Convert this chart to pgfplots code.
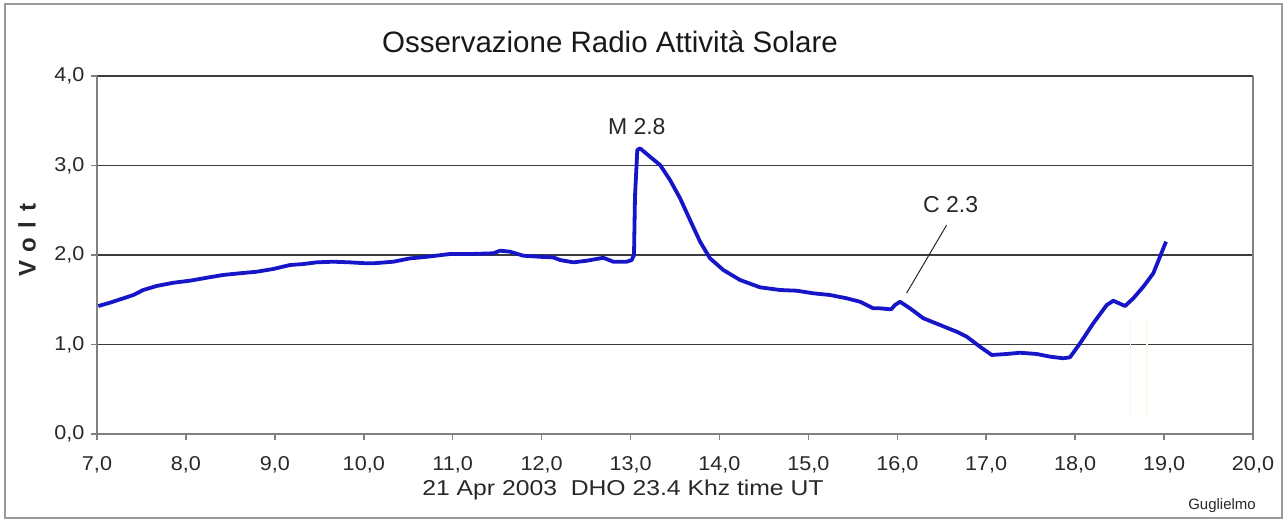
\documentclass[border=0pt]{standalone}
\usepackage{fontspec}
\setmainfont{Liberation Sans}
\newfontfamily\widefont[FakeStretch=1.08]{Liberation Sans}
\newfontfamily\labelfont[FakeStretch=1.15]{Liberation Sans}
\usepackage{pgfplots}
\pgfplotsset{compat=1.18}

\definecolor{trace}{RGB}{22,22,200}
\definecolor{gridc}{RGB}{60,60,60}
\definecolor{axisc}{RGB}{128,128,128}
\definecolor{txt}{RGB}{40,40,40}
\definecolor{faint}{RGB}{250,250,232}

\begin{document}
\begin{tikzpicture}[x=1pt,y=1pt]
  % page in pixel units, y downwards
  \useasboundingbox (0,0) rectangle (1287,-521);
  \fill[white] (0,0) rectangle (1287,-521);
  \draw[axisc!80, line width=2.5pt] (5,-4) rectangle (1282,-518);

  \begin{axis}[
    at={(97pt,-434pt)}, anchor=south west,
    scale only axis,
    width=1156pt, height=358pt,
    xmin=7, xmax=20, ymin=0, ymax=4,
    xtick={7,8,...,20}, ytick={0,1,2,3,4},
    axis line style={draw=none},
    tick pos=left, tick align=outside,
    major tick length=6pt,
    tick style={axisc, line width=1.5pt},
    /pgf/number format/.cd, fixed, fixed zerofill, precision=1, use comma,
    assume math mode=true,
    /pgfplots/.cd,
    every tick label/.append style={font=\widefont\fontsize{20}{20}\selectfont, text=txt},
    yticklabel style={xshift=-3pt},
    xticklabel style={yshift=-13pt},
    clip=false,
  ]
    % grid lines and frame of the plot area
    \draw[gridc, line width=1.5pt] (axis cs:7,1) -- (axis cs:20,1);
    \draw[gridc, line width=1.5pt] (axis cs:7,2) -- (axis cs:20,2);
    \draw[gridc, line width=1.5pt] (axis cs:7,3) -- (axis cs:20,3);
    \draw[gridc, line width=1.5pt] (axis cs:7,4) -- (axis cs:20,4);
    \draw[axisc, line width=1.5pt] (axis cs:20,0) -- (axis cs:20,4);
    \draw[axisc, line width=2pt] (axis cs:7,0) -- (axis cs:20,0);
    \draw[axisc, line width=2pt] (axis cs:7,0) -- (axis cs:7,4);

    % faint stray marks
    \addplot[faint, line width=1.5pt] coordinates {(18.62,0.19) (18.62,1.28)};
    \addplot[faint, line width=1.5pt] coordinates {(18.81,0.19) (18.81,1.28)};

    \addplot[trace, line width=3.8pt, line join=round] coordinates {
      (7.015,1.43) (7.146,1.467) (7.296,1.516) (7.408,1.553) (7.52,1.609)
      (7.671,1.654) (7.858,1.69) (8.046,1.713) (8.234,1.746) (8.42,1.777)
      (8.608,1.796) (8.796,1.813) (8.983,1.844) (9.17,1.888) (9.32,1.899)
      (9.47,1.918) (9.657,1.925) (9.845,1.918) (10.033,1.907) (10.107,1.907)
      (10.332,1.925) (10.52,1.962) (10.708,1.98) (10.97,2.011) (11.195,2.011)
      (11.457,2.019) (11.532,2.048) (11.645,2.037) (11.794,1.992) (11.982,1.98)
      (12.132,1.973) (12.207,1.944) (12.357,1.918) (12.507,1.936) (12.694,1.969)
      (12.806,1.925) (12.957,1.925) (13.013,1.944) (13.039,2.0) (13.05,2.651)
      (13.076,3.173) (13.107,3.192) (13.219,3.098) (13.332,3.006) (13.444,2.838)
      (13.557,2.634) (13.669,2.391) (13.782,2.149) (13.894,1.963) (14.044,1.832)
      (14.231,1.721) (14.456,1.639) (14.681,1.609) (14.869,1.601) (15.056,1.572)
      (15.243,1.553) (15.431,1.516) (15.58,1.478) (15.73,1.404) (15.806,1.404)
      (15.93,1.393) (15.974,1.441) (16.03,1.478) (16.143,1.404) (16.293,1.293)
      (16.48,1.218) (16.668,1.143) (16.781,1.087) (16.93,0.975) (17.062,0.883)
      (17.23,0.894) (17.38,0.908) (17.568,0.894) (17.718,0.864) (17.867,0.846)
      (17.942,0.857) (18.055,1.013) (18.204,1.237) (18.355,1.441) (18.429,1.489)
      (18.561,1.43) (18.654,1.516) (18.767,1.646) (18.879,1.796) (18.954,1.981)
      (19.022,2.149)
    };

    % flare labels
    \node[font=\fontsize{23}{23}\selectfont, text=txt] at (axis cs:13.07,3.44) {M 2.8};
    \node[font=\fontsize{23}{23}\selectfont, text=txt] at (axis cs:16.60,2.56) {C 2.3};
    \draw[txt, line width=1pt] (axis cs:16.555,2.335) -- (axis cs:16.105,1.575);
  \end{axis}

  \node[font=\fontsize{29.5}{29.5}\selectfont, text=black!90] at (610,-42) {Osservazione Radio Attività Solare};
  \node[font=\labelfont\fontsize{21.5}{21.5}\selectfont, text=txt] at (623,-490) {21 Apr 2003\ \ DHO 23.4 Khz time UT};
  \node[font=\fontsize{24}{24}\selectfont\bfseries\addfontfeature{LetterSpace=40}, text=txt, rotate=90] at (27,-240) {Volt};
  \node[font=\fontsize{15}{15}\selectfont, text=txt] at (1222,-506) {Guglielmo};
\end{tikzpicture}
\end{document}
